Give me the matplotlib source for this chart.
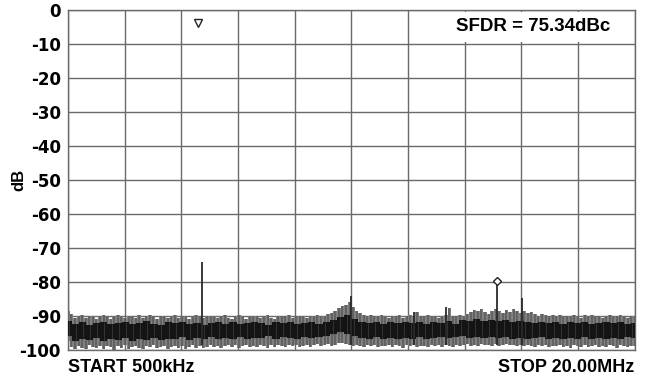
import numpy as np
import matplotlib
matplotlib.use("Agg")
import matplotlib.pyplot as plt
from matplotlib.patches import Rectangle

plt.rcParams["font.family"] = ["Liberation Sans", "DejaVu Sans"]

# sweep span, MHz
F_START = 0.5
F_STOP = 20.0

# noise floor envelope (160 bins across the span), dB
noise_top = [
    -88.5, -89.5, -90.5, -90.0, -89.8, -90.6, -90.2, -89.9, -90.8, -90.1,
    -89.7, -90.4, -90.9, -90.0, -89.6, -90.3, -90.7, -89.9, -90.2, -90.5,
    -89.8, -90.6, -90.1, -89.7, -90.4, -90.8, -90.0, -89.9, -90.5, -90.2,
    -89.6, -90.7, -90.3, -90.0, -90.9, -90.4, -89.8, -90.2, -90.6, -90.1,
    -90.3, -89.9, -90.7, -90.2, -89.8, -90.5, -91.0, -90.1, -89.7, -90.4,
    -90.8, -90.0, -90.3, -89.9, -90.6, -90.2, -89.6, -90.5, -90.9, -90.1,
    -90.4, -90.0, -89.8, -90.6, -90.3, -90.1, -89.9, -90.7, -90.2, -90.0,
    -89.7, -90.3, -89.9, -89.5, -89.0, -88.4, -87.8, -87.2, -86.8, -86.0,
    -87.5, -88.6, -89.2, -89.6, -90.0, -89.8, -90.4, -90.1, -89.7, -90.3,
    -90.6, -89.9, -90.2, -89.8, -90.5, -90.0, -89.6, -90.3, -88.8, -90.1,
    -90.4, -89.8, -90.2, -89.9, -90.5, -90.1, -89.7, -87.6, -90.0, -90.4,
    -89.8, -90.2, -89.5, -88.9, -88.2, -88.6, -88.0, -88.7, -89.3, -88.4,
    -87.9, -88.5, -89.0, -88.3, -88.8, -88.1, -88.6, -89.2, -88.5, -89.0,
    -88.7, -89.4, -89.9, -89.3, -89.8, -90.3, -89.7, -90.1, -89.6, -90.2,
    -89.9, -90.4, -89.7, -90.0, -90.5, -89.8, -90.2, -89.6, -90.3, -89.9,
    -90.6, -90.1, -89.8, -90.4, -90.0, -89.7, -90.3, -90.5, -89.9, -90.2,
]
noise_bot = [
    -97.5, -99.0, -99.6, -98.8, -99.3, -99.8, -98.6, -99.1, -99.5, -98.9,
    -99.7, -98.7, -99.2, -99.9, -98.8, -99.4, -98.5, -99.6, -99.0, -98.7,
    -99.3, -99.8, -98.9, -99.1, -98.6, -99.5, -99.0, -98.8, -99.7, -99.2,
    -98.7, -99.4, -98.9, -99.6, -99.1, -98.6, -99.3, -98.8, -99.5, -99.0,
    -98.5, -99.2, -98.7, -99.4, -98.9, -98.4, -99.1, -98.6, -99.3, -98.8,
    -98.5, -99.0, -98.7, -99.2, -98.4, -98.9, -99.3, -98.6, -99.0, -98.5,
    -98.8, -99.2, -98.6, -98.9, -98.4, -99.1, -98.7, -98.5, -99.0, -98.6,
    -98.3, -98.8, -98.5, -98.2, -98.7, -98.4, -98.0, -97.8, -98.2, -98.6,
    -98.9, -98.4, -98.8, -99.1, -98.6, -98.9, -98.5, -99.2, -98.7, -98.9,
    -98.4, -99.0, -98.6, -98.8, -99.3, -98.5, -98.9, -98.6, -99.1, -98.7,
    -98.8, -99.2, -98.5, -98.9, -98.6, -99.0, -98.4, -98.8, -99.1, -98.6,
    -98.9, -98.5, -98.3, -98.7, -98.4, -98.9, -98.2, -98.6, -98.4, -98.8,
    -98.3, -98.7, -98.5, -98.2, -98.6, -98.4, -98.8, -98.5, -98.9, -98.6,
    -98.8, -99.1, -98.6, -98.9, -98.5, -99.2, -98.7, -98.9, -98.4, -99.0,
    -98.7, -99.3, -98.6, -98.9, -99.1, -98.5, -99.2, -98.8, -98.6, -99.0,
    -98.7, -99.2, -98.5, -98.9, -99.3, -98.6, -98.8, -99.1, -98.7, -98.9,
]
# darker core of the trace (80 bins), dB
core_top = [
    -91.5, -92.3, -91.8, -92.6, -92.0, -91.7, -92.4, -92.1, -91.9, -92.5,
    -92.0, -91.6, -92.3, -92.7, -91.9, -92.2, -91.8, -92.4, -92.0, -92.6,
    -92.1, -91.7, -92.3, -91.9, -92.5, -92.0, -91.8, -92.2, -92.6, -91.9,
    -92.1, -91.8, -92.4, -92.0, -91.7, -92.3, -91.9, -91.2, -90.2, -89.6,
    -90.8, -91.7, -92.0, -91.8, -92.3, -91.9, -92.1, -91.7, -92.2, -91.9,
    -92.4, -91.8, -92.0, -91.6, -92.3, -91.2, -91.5, -91.0, -91.4, -91.1,
    -91.6, -91.3, -91.8, -91.5, -91.9, -92.2, -91.8, -92.0, -91.7, -92.3,
    -91.9, -92.1, -91.7, -92.4, -92.0, -91.8, -92.2, -91.9, -92.3, -92.0,
]
core_bot = [
    -96.0, -97.4, -96.8, -97.2, -96.6, -97.5, -96.9, -97.1, -96.5, -97.3,
    -96.8, -97.0, -96.4, -97.2, -96.7, -96.9, -96.3, -97.0, -96.6, -96.8,
    -96.2, -96.9, -96.5, -96.7, -96.1, -96.8, -96.4, -96.6, -96.0, -96.7,
    -96.3, -96.5, -96.8, -96.2, -96.6, -96.3, -95.9, -95.4, -94.8, -95.2,
    -95.9, -96.4, -96.7, -96.3, -96.8, -96.4, -96.9, -96.5, -96.7, -96.3,
    -96.8, -96.5, -96.2, -96.6, -96.3, -96.0, -96.4, -96.1, -96.5, -96.2,
    -96.6, -96.3, -96.7, -96.4, -96.8, -96.5, -96.2, -96.7, -96.4, -96.9,
    -96.5, -96.8, -96.3, -96.7, -96.4, -96.9, -96.5, -96.7, -96.3, -96.6,
]

# discrete spurs above the floor: frequency (MHz), peak (dB)
spur_freq = [5.11, 10.23, 15.25, 16.12, 13.50, 12.40]
spur_peak = [-74.3, -84.2, -79.6, -84.6, -87.5, -88.7]

# markers
fund_freq, fund_level = 4.97, -4.0      # fundamental marker (off the trace)
spur_mark_freq, spur_mark_level = 15.25, -79.6

y_ticks = list(range(0, -101, -10))


def main() -> None:
    fig = plt.figure(figsize=(6.47, 3.77), dpi=100)
    ax = fig.add_axes([0.105, 0.0716, 0.876, 0.9032])

    f_n = np.linspace(F_START, F_STOP, len(noise_top))
    f_c = np.linspace(F_START, F_STOP, len(core_top))

    # grey noise band with streaks, then the dark core on top
    ax.fill_between(f_n, noise_bot, noise_top, step="mid",
                    color="#808080", lw=0, zorder=2)
    ax.vlines(f_n, noise_bot, noise_top, color="#5a5a5a", lw=1.1, zorder=2.5)
    ax.fill_between(f_c, core_bot, core_top, step="mid",
                    color="#141414", lw=0, zorder=3)
    ax.vlines(f_n[::2] + 0.03, core_bot, core_top, color="#383838",
              lw=0.6, zorder=3.2)

    ax.vlines(spur_freq, -98.5, spur_peak, color="#2a2a2a", lw=1.3, zorder=4)

    ax.plot([fund_freq], [fund_level], marker="v", ms=5.5, mfc="white",
            mec="#222", mew=1.0, ls="none", zorder=5)
    ax.plot([spur_mark_freq], [spur_mark_level], marker="D", ms=4.5,
            mfc="white", mec="#222", mew=1.0, ls="none", zorder=5)

    ax.set_xlim(F_START, F_STOP)
    ax.set_ylim(-100, 0)
    ax.set_xticks(np.linspace(F_START, F_STOP, 11))
    ax.set_xticklabels([])
    ax.set_yticks(y_ticks)
    ax.set_yticklabels([str(v) for v in y_ticks], fontsize=12,
                       fontweight="bold", family="DejaVu Sans")
    ax.tick_params(length=0, pad=5)
    ax.grid(True, color="#6a6a6a", lw=1.0, zorder=1)
    ax.set_axisbelow(True)
    for s in ax.spines.values():
        s.set_color("#6a6a6a")
        s.set_linewidth(1.0)

    ax.set_ylabel("dB", fontsize=12, fontweight="bold")
    ax.yaxis.set_label_coords(-0.074, 0.5)

    # white label box over the grid in the top-right corner
    ax.add_patch(Rectangle((0.665, 0.905), 0.328, 0.088, transform=ax.transAxes,
                           fc="white", ec="none", zorder=6))
    ax.text(0.82, 0.95, "SFDR = 75.34dBc", transform=ax.transAxes,
            ha="center", va="center", fontsize=13.5, fontweight="bold",
            zorder=7)

    ax.text(0.0, -0.025, "START 500kHz", transform=ax.transAxes,
            ha="left", va="top", fontsize=13, fontweight="bold")
    ax.text(1.0, -0.025, "STOP 20.00MHz", transform=ax.transAxes,
            ha="right", va="top", fontsize=13, fontweight="bold")

    fig.savefig("out.png", dpi=100)


if __name__ == "__main__":
    main()
